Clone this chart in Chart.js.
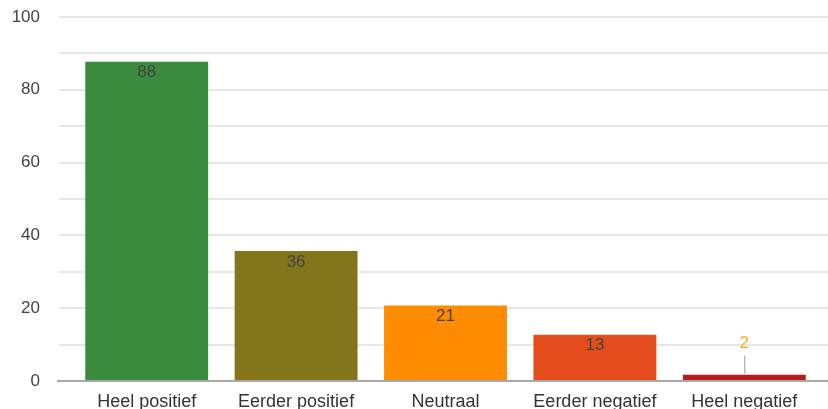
<!DOCTYPE html>
<html>
<head>
<meta charset="utf-8">
<script src="https://cdn.jsdelivr.net/npm/chart.js@4/dist/chart.umd.min.js"></script>
<style>
  html, body { margin: 0; padding: 0; background: #fff; overflow: hidden; }
  canvas { display: block; }
</style>
</head>
<body>
<canvas id="chart" width="828" height="409"></canvas>
<script>
// categorieën en waarden
const categories = ["Heel positief", "Eerder positief", "Neutraal", "Eerder negatief", "Heel negatief"];
const values = [88, 36, 21, 13, 2];
const barColors = ["#3a8b3e", "#82751c", "#ff8c00", "#e44c1b", "#b71c1c"];
const yTicks = [0, 20, 40, 60, 80, 100];

const FONT = "'Liberation Sans', Arial, sans-serif";

// rasterlijnen over de volle breedte + nullijn
const gridPlugin = {
  id: "fullGrid",
  beforeDatasetsDraw(chart) {
    const ctx = chart.ctx;
    const y = chart.scales.y;
    ctx.save();
    ctx.strokeStyle = "#e6e6e6";
    ctx.lineWidth = 2;
    for (let v = 10; v <= 100; v += 10) {
      const py = Math.round(y.getPixelForValue(v));
      ctx.beginPath();
      ctx.moveTo(59, py);
      ctx.lineTo(828, py);
      ctx.stroke();
    }
    ctx.restore();
  },
  afterDatasetsDraw(chart) {
    const ctx = chart.ctx;
    const y = chart.scales.y;
    const py = Math.round(y.getPixelForValue(0));
    ctx.save();
    ctx.strokeStyle = "#a8a8a8";
    ctx.lineWidth = 2;
    ctx.beginPath();
    ctx.moveTo(57, py);
    ctx.lineTo(828, py);
    ctx.stroke();
    ctx.restore();
  }
};

// waardelabels op de staven
const labelPlugin = {
  id: "barLabels",
  afterDatasetsDraw(chart) {
    const ctx = chart.ctx;
    const meta = chart.getDatasetMeta(0);
    ctx.save();
    ctx.font = "17px " + FONT;
    ctx.textAlign = "center";
    ctx.textBaseline = "middle";
    meta.data.forEach((bar, i) => {
      const v = values[i];
      if (bar.base - bar.y > 24) {
        ctx.fillStyle = "#444";
        ctx.fillText(String(v), bar.x, bar.y + 12);
      } else {
        // klein staafje: label erboven met lijntje
        ctx.strokeStyle = "#999";
        ctx.lineWidth = 1;
        ctx.beginPath();
        ctx.moveTo(bar.x + 0.5, bar.y - 18);
        ctx.lineTo(bar.x + 0.5, bar.y);
        ctx.stroke();
        ctx.fillStyle = "#ffa726";
        ctx.fillText(String(v), bar.x, bar.y - 30);
      }
    });
    ctx.restore();
  }
};

new Chart(document.getElementById("chart"), {
  type: "bar",
  data: {
    labels: categories,
    datasets: [{
      data: values,
      backgroundColor: barColors,
      borderColor: "rgba(255,255,255,0.35)",
      borderWidth: 1,
      categoryPercentage: 0.836,
      barPercentage: 1
    }]
  },
  options: {
    responsive: false,
    animation: false,
    layout: { padding: { top: 17, right: 9, left: 0, bottom: 0 } },
    plugins: {
      legend: { display: false },
      tooltip: { enabled: false }
    },
    scales: {
      x: {
        grid: { display: false },
        border: { display: false },
        ticks: {
          color: "#333",
          font: { family: FONT, size: 18 },
          padding: 2,
          maxRotation: 0
        },
        afterFit: (s) => {
          s.height = 28;
          s.paddingLeft = 0;
          s.paddingRight = 0;
        }
      },
      y: {
        min: 0,
        max: 100,
        grid: { display: false },
        border: { display: false },
        afterBuildTicks: (s) => { s.ticks = yTicks.map(v => ({ value: v })); },
        ticks: {
          color: "#444",
          font: { family: FONT, size: 17 },
          padding: 24
        },
        afterFit: (s) => {
          s.width = 72;
          s.paddingTop = 0;
          s.paddingBottom = 0;
        }
      }
    }
  },
  plugins: [gridPlugin, labelPlugin]
});
</script>
</body>
</html>
